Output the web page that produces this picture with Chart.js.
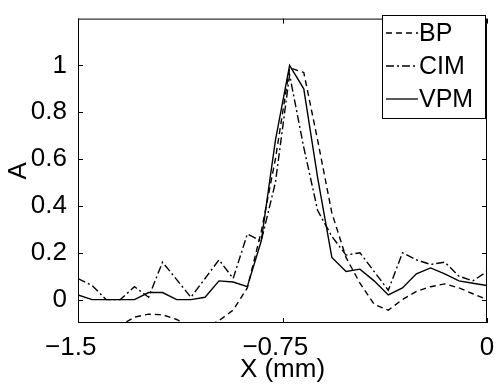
<!DOCTYPE html>
<html>
<head>
<meta charset="utf-8">
<script src="https://cdn.jsdelivr.net/npm/chart.js@4"></script>
<style>
  body { margin: 0; background: #fff; }
  #wrap { width: 498px; height: 385px; position: relative; }
</style>
</head>
<body>
<div id="wrap"><canvas id="chart"></canvas></div>
<script>
// data
const xValues = [-1.500, -1.448, -1.397, -1.345, -1.293, -1.241, -1.190, -1.138, -1.086, -1.034,
                 -0.983, -0.931, -0.879, -0.828, -0.776, -0.724, -0.672, -0.621, -0.569, -0.517,
                 -0.466, -0.414, -0.362, -0.310, -0.259, -0.207, -0.155, -0.103, -0.052, 0.000];
const bpValues = [-0.10, -0.105, -0.12, -0.11, -0.075, -0.062, -0.065, -0.085, -0.12, -0.12,
                  -0.09, -0.045, 0.05, 0.29, 0.60, 0.99, 0.97, 0.68, 0.37, 0.18,
                  0.07, -0.02, -0.045, 0.0, 0.035, 0.055, 0.067, 0.05, 0.025, 0.0];
const cimValues = [0.09, 0.06, 0.0, 0.0, 0.055, 0.01, 0.16, 0.085, 0.01, 0.09,
                   0.17, 0.09, 0.28, 0.25, 0.50, 0.96, 0.65, 0.38, 0.27, 0.19,
                   0.20, 0.12, 0.04, 0.20, 0.17, 0.15, 0.16, 0.10, 0.08, 0.12];
const vpmValues = [0.02, 0.0, 0.0, 0.0, 0.0, 0.03, 0.03, 0.0, 0.0, 0.01,
                   0.08, 0.075, 0.055, 0.25, 0.68, 1.0, 0.90, 0.52, 0.18, 0.12,
                   0.13, 0.08, 0.02, 0.05, 0.11, 0.135, 0.11, 0.08, 0.07, 0.06];
const seriesNames = ['BP', 'CIM', 'VPM'];
const xTicks = [-1.5, -0.75, 0];
// trailing padding keeps the number itself centred on the tick, minus sticking out left
const xTickLabels = ['\u22121.5\u00a0\u00a0', '\u22120.75\u00a0\u00a0', '0'];
const yTicks = [0, 0.2, 0.4, 0.6, 0.8, 1];
const yTickLabels = ['0', '0.2', '0.4', '0.6', '0.8', '1'];

const FONT = 'Liberation Sans, Arial, Helvetica, sans-serif';
const FS = 26;
const dashes = [[6, 4], [8, 3, 2, 3], []];

function pts(ys) {
  return xValues.map((x, i) => ({ x: x, y: ys[i] }));
}

// box round the plot, ticks pointing inwards, and a boxed legend
const boxPlugin = {
  id: 'box',
  afterDraw(chart) {
    const ctx = chart.ctx;
    const a = chart.chartArea;
    const xs = chart.scales.x, ys = chart.scales.y;
    ctx.save();
    ctx.strokeStyle = '#000';
    ctx.lineWidth = 1;
    ctx.strokeRect(a.left + 0.5, a.top + 0.5, a.right - a.left - 1, a.bottom - a.top - 1);
    ctx.beginPath();
    xTicks.forEach(v => {
      const px = Math.round(xs.getPixelForValue(v)) + 0.5;
      ctx.moveTo(px, a.bottom); ctx.lineTo(px, a.bottom - 5);
      ctx.moveTo(px, a.top); ctx.lineTo(px, a.top + 5);
    });
    yTicks.forEach(v => {
      const py = Math.round(ys.getPixelForValue(v)) + 0.5;
      ctx.moveTo(a.left, py); ctx.lineTo(a.left + 5, py);
      ctx.moveTo(a.right, py); ctx.lineTo(a.right - 5, py);
    });
    ctx.stroke();

    // legend
    const lx = 382, ly = 15, lw = 103, lh = 103;
    ctx.fillStyle = '#fff';
    ctx.fillRect(lx, ly, lw, lh);
    ctx.strokeRect(lx + 0.5, ly + 0.5, lw, lh);
    ctx.font = '25px ' + FONT;
    ctx.textBaseline = 'middle';
    ctx.fillStyle = '#000';
    chart.data.datasets.forEach((ds, i) => {
      const cy = ly + 18 + i * 33;
      ctx.beginPath();
      ctx.setLineDash(ds.borderDash);
      ctx.lineWidth = 1.3;
      ctx.moveTo(lx + 4, cy); ctx.lineTo(lx + 36, cy);
      ctx.stroke();
      ctx.setLineDash([]);
      ctx.fillText(ds.label, lx + 37, cy + 1);
    });
    ctx.restore();
  }
};

new Chart(document.getElementById('chart'), {
  type: 'line',
  data: {
    datasets: [bpValues, cimValues, vpmValues].map((vals, i) => ({
      label: seriesNames[i],
      data: pts(vals),
      borderColor: '#000',
      borderWidth: 1.4,
      borderDash: dashes[i],
      pointRadius: 0,
      fill: false,
      tension: 0
    }))
  },
  options: {
    responsive: true,
    maintainAspectRatio: false,
    animation: false,
    layout: { padding: { top: 11, right: 11, left: 0, bottom: 0 } },
    plugins: { legend: { display: false }, tooltip: { enabled: false } },
    scales: {
      x: {
        type: 'linear',
        min: -1.5,
        max: 0,
        grid: { display: false },
        border: { display: false },
        afterBuildTicks: s => { s.ticks = xTicks.map(v => ({ value: v })); },
        afterFit: s => { s.height = 62; },
        ticks: {
          color: '#000',
          font: { family: FONT, size: FS },
          padding: 1,
          maxRotation: 0,
          callback: (v) => xTickLabels[xTicks.indexOf(v)]
        },
        title: {
          display: true,
          text: 'X (mm)',
          color: '#000',
          font: { family: FONT, size: FS },
          padding: { top: 0, bottom: 0 }
        }
      },
      y: {
        min: -0.1,
        max: 1.2,
        grid: { display: false },
        border: { display: false },
        afterBuildTicks: s => { s.ticks = yTicks.map(v => ({ value: v })); },
        afterFit: s => { s.width = 78; },
        ticks: {
          color: '#000',
          font: { family: FONT, size: FS },
          padding: 3,
          callback: (v) => yTickLabels[yTicks.indexOf(v)]
        },
        title: {
          display: true,
          text: 'A',
          color: '#000',
          font: { family: FONT, size: FS },
          padding: { top: 3, bottom: 0 }
        }
      }
    }
  },
  plugins: [boxPlugin]
});
</script>
</body>
</html>
